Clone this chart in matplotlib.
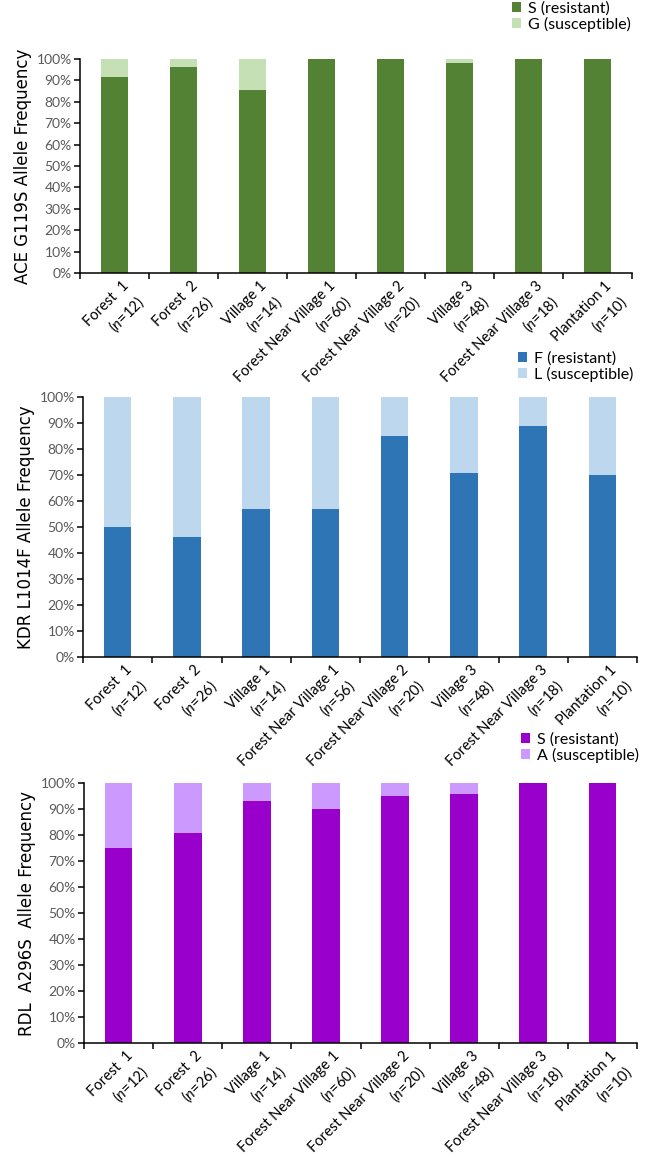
import matplotlib
matplotlib.use("Agg")
import matplotlib.pyplot as plt
import matplotlib.transforms as mtransforms
import numpy as np

plt.rcParams["font.family"] = ["Lato", "DejaVu Sans"]
plt.rcParams["mathtext.fontset"] = "custom"
plt.rcParams["mathtext.rm"] = "Lato"
plt.rcParams["mathtext.it"] = "Lato:italic"

# population labels (n differs for KDR Forest Near Village 1)
sites = ["Forest  1", "Forest  2", "Village 1", "Forest Near Village 1",
         "Forest Near Village 2", "Village 3", "Forest Near Village 3", "Plantation 1"]
n_ace = [12, 26, 14, 60, 20, 48, 18, 10]
n_kdr = [12, 26, 14, 56, 20, 48, 18, 10]
n_rdl = [12, 26, 14, 60, 20, 48, 18, 10]

# resistant allele frequency (%), susceptible = 100 - resistant
ace_res = [91.7, 96.2, 85.7, 100, 100, 97.9, 100, 100]
kdr_res = [50.0, 46.2, 57.1, 57.1, 85.0, 70.8, 88.9, 70.0]
rdl_res = [75.0, 80.8, 92.9, 90.0, 95.0, 95.8, 100, 100]

panels = [
    ("ACE G119S Allele Frequency", ace_res, n_ace, "#548235", "#C5E0B4",
     "S (resistant)", "G (susceptible)"),
    ("KDR L1014F Allele Frequency", kdr_res, n_kdr, "#2E75B6", "#BDD7EE",
     "F (resistant)", "L (susceptible)"),
    ("RDL  A296S  Allele Frequency", rdl_res, n_rdl, "#9900CC", "#CC99FF",
     "S (resistant)", "A (susceptible)"),
]

W, H = 646, 1158
DPI = 100
fig = plt.figure(figsize=(W / DPI, H / DPI), dpi=DPI)

# axes boxes in pixels: left, top, right, bottom
boxes = [(80, 59, 632, 273), (83, 397, 637, 657), (84, 783, 637, 1043)]
legend_pos = [(512, 1), (518, 351), (521, 732)]


def px(dx, dy):
    return mtransforms.ScaledTranslation(dx / DPI, dy / DPI, fig.dpi_scale_trans)


for i, ((ylab, res, ns, c_res, c_sus, l_res, l_sus), (x0, y0, x1, y1), (lx, ly)) in enumerate(
        zip(panels, boxes, legend_pos)):
    ax = fig.add_axes([x0 / W, 1 - y1 / H, (x1 - x0) / W, (y1 - y0) / H])
    ax.set_zorder(10 - i)
    ax.patch.set_alpha(0)
    x = np.arange(len(sites))
    res = np.array(res, dtype=float)
    sus = 100 - res
    b1 = ax.bar(x, res, width=0.4, color=c_res, edgecolor="none")
    b2 = ax.bar(x, sus, width=0.4, bottom=res, color=c_sus, edgecolor="none")

    ax.set_xlim(-0.5, len(sites) - 0.5)
    ax.set_ylim(0, 100)
    ax.set_yticks(np.arange(0, 101, 10))
    ax.set_yticklabels([f"{v}%" for v in range(0, 101, 10)], color="#595959", fontsize=10)
    ax.tick_params(axis="y", length=4, width=1.1, direction="out", pad=2)

    # category boundaries get tick marks, labels are drawn as rotated texts
    ax.set_xticks(np.arange(-0.5, len(sites), 1.0))
    ax.set_xticklabels([])
    ax.tick_params(axis="x", which="major", length=4, width=1.1, direction="out")
    tr = ax.get_xaxis_transform()
    for xi, s, n in zip(x, sites, ns):
        ax.text(xi, 0, s, transform=tr + px(7, -6), rotation=45,
                rotation_mode="anchor", ha="right", va="top", fontsize=10.5,
                clip_on=False)
        ax.text(xi, 0, f"($\\mathit{{n}}$={n})", transform=tr + px(20.5, -19.5),
                rotation=45, rotation_mode="anchor", ha="right", va="top",
                fontsize=10.5, clip_on=False)

    for s in ["top", "right"]:
        ax.spines[s].set_visible(False)
    ax.spines["left"].set_linewidth(1.1)
    ax.spines["bottom"].set_linewidth(1.1)

    ax.set_ylabel(ylab, fontsize=12, family="DejaVu Sans", labelpad=3)

    ax.legend([b1, b2], [l_res, l_sus], loc="upper left",
              bbox_to_anchor=(lx / W, 1 - ly / H), bbox_transform=fig.transFigure,
              frameon=False, fontsize=11.5, handlelength=0.56, handleheight=0.56,
              handletextpad=0.45, labelspacing=0.08, borderpad=0, borderaxespad=0)

fig.savefig("out.png", dpi=DPI)
